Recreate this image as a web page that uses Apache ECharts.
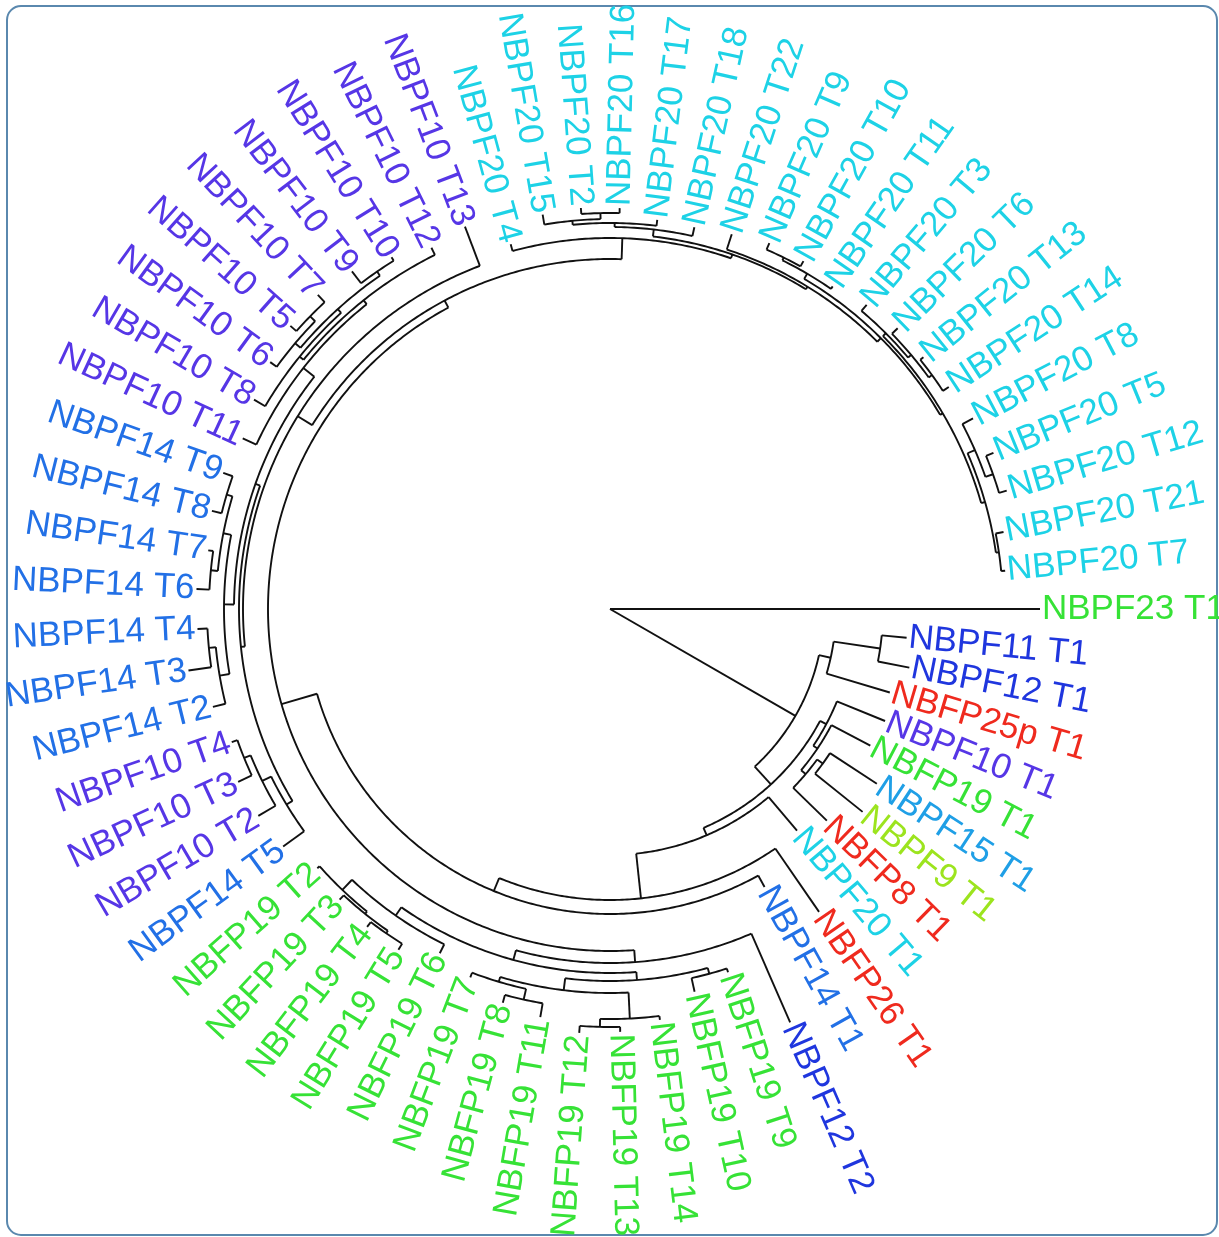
<!DOCTYPE html>
<html>
<head>
<meta charset="utf-8">
<script src="https://cdn.jsdelivr.net/npm/echarts@6/dist/echarts.min.js"></script>
<style>
  html, body { margin: 0; padding: 0; background: #ffffff; }
  #chart { width: 1219px; height: 1237px; }
</style>
</head>
<body>
<div id="chart"></div>
<script>
// Tips of the tree, in drawing order (counter-clockwise is decreasing index)
const leafNames = [
  'NBPF23 T1', 'NBPF11 T1', 'NBPF12 T1', 'NBFP25p T1', 'NBPF10 T1', 'NBFP19 T1',
  'NBPF15 T1', 'NBPF9 T1', 'NBFP8 T1', 'NBPF20 T1', 'NBFP26 T1', 'NBPF14 T1',
  'NBPF12 T2', 'NBFP19 T9', 'NBFP19 T10', 'NBFP19 T14', 'NBFP19 T13', 'NBFP19 T12',
  'NBFP19 T11', 'NBFP19 T8', 'NBFP19 T7', 'NBFP19 T6', 'NBFP19 T5', 'NBFP19 T4',
  'NBFP19 T3', 'NBFP19 T2', 'NBPF14 T5', 'NBPF10 T2', 'NBPF10 T3', 'NBPF10 T4',
  'NBPF14 T2', 'NBPF14 T3', 'NBPF14 T4', 'NBPF14 T6', 'NBPF14 T7', 'NBPF14 T8',
  'NBPF14 T9', 'NBPF10 T11', 'NBPF10 T8', 'NBPF10 T6', 'NBPF10 T5', 'NBPF10 T7',
  'NBPF10 T9', 'NBPF10 T10', 'NBPF10 T12', 'NBPF10 T13', 'NBPF20 T4', 'NBPF20 T15',
  'NBPF20 T2', 'NBPF20 T16', 'NBPF20 T17', 'NBPF20 T18', 'NBPF20 T22', 'NBPF20 T9',
  'NBPF20 T10', 'NBPF20 T11', 'NBPF20 T3', 'NBPF20 T6', 'NBPF20 T13', 'NBPF20 T14',
  'NBPF20 T8', 'NBPF20 T5', 'NBPF20 T12', 'NBPF20 T21', 'NBPF20 T7'
];

// Distance of each tip from the root
const leafDepth = [
  430, 298, 305, 292, 297, 294,
  319, 324, 303, 290, 368, 318,
  451, 382, 392, 414, 423, 425,
  414, 408, 394, 384, 401, 400,
  397, 391, 404, 408, 410, 401,
  409, 426, 413, 414, 406, 410,
  410, 405, 413, 420, 427, 429,
  425, 414, 403, 409, 378, 400,
  402, 401, 392, 391, 394, 399,
  398, 392, 398, 402, 402, 405,
  410, 414, 414, 401, 397
];

// Internal nodes: [child, child, depth]; a child is a tip name or the index of an earlier node
const merges = [
  ['NBPF11 T1', 'NBPF12 T1', 273],   // 0
  [0, 'NBFP25p T1', 226],            // 1
  ['NBPF15 T1', 'NBPF9 T1', 263],    // 2
  [2, 'NBFP8 T1', 256],              // 3
  ['NBFP19 T1', 3, 250],             // 4
  ['NBPF10 T1', 4, 245],             // 5
  ['NBFP19 T4', 'NBFP19 T5', 394],   // 6
  ['NBFP19 T3', 6, 391],             // 7
  ['NBFP19 T2', 7, 388],             // 8
  [8, 'NBFP19 T6', 374],             // 9
  ['NBFP19 T8', 'NBFP19 T11', 400],  // 10
  ['NBFP19 T7', 10, 389],            // 11
  ['NBFP19 T12', 'NBFP19 T13', 418], // 12
  [12, 'NBFP19 T14', 410],           // 13
  [11, 13, 384],                     // 14
  ['NBFP19 T10', 'NBFP19 T9', 378],  // 15
  [14, 15, 372],                     // 16
  [9, 16, 364],                      // 17
  [17, 'NBPF12 T2', 354],            // 18
  ['NBPF10 T4', 'NBPF10 T3', 395],   // 19
  [19, 'NBPF10 T2', 388],            // 20
  [20, 'NBPF14 T5', 378],            // 21
  ['NBPF14 T9', 'NBPF14 T8', 400],   // 22
  ['NBPF14 T7', 'NBPF14 T6', 401],   // 23
  [22, 23, 394],                     // 24
  ['NBPF14 T4', 'NBPF14 T3', 403],   // 25
  [25, 'NBPF14 T2', 396],            // 26
  [24, 26, 386],                     // 27
  ['NBPF10 T5', 'NBPF10 T7', 419],   // 28
  ['NBPF10 T6', 28, 412],            // 29
  ['NBPF10 T9', 'NBPF10 T10', 410],  // 30
  [29, 30, 405],                     // 31
  ['NBPF10 T8', 31, 400],            // 32
  [32, 'NBPF10 T12', 395],           // 33
  ['NBPF10 T11', 33, 390],           // 34
  [27, 34, 376],                     // 35
  [21, 35, 371],                     // 36
  [36, 'NBPF10 T13', 367],           // 37
  ['NBPF20 T2', 'NBPF20 T16', 396],  // 38
  ['NBPF20 T15', 38, 390],           // 39
  [39, 'NBPF20 T17', 386],           // 40
  [40, 'NBPF20 T18', 382],           // 41
  ['NBPF20 T9', 'NBPF20 T10', 392],  // 42
  [42, 'NBPF20 T11', 389],           // 43
  ['NBPF20 T13', 'NBPF20 T14', 398], // 44
  ['NBPF20 T6', 44, 394],            // 45
  ['NBPF20 T3', 45, 390],            // 46
  ['NBPF20 T5', 'NBPF20 T12', 406],  // 47
  ['NBPF20 T8', 47, 398],            // 48
  ['NBPF20 T21', 'NBPF20 T7', 393],  // 49
  [48, 49, 390],                     // 50
  [46, 50, 386],                     // 51
  [43, 51, 383],                     // 52
  ['NBPF20 T22', 52, 378],           // 53
  [41, 53, 375],                     // 54
  ['NBPF20 T4', 54, 371],            // 55
  [37, 55, 350],                     // 56
  [56, 18, 342],                     // 57
  ['NBPF14 T1', 57, 305],            // 58
  ['NBFP26 T1', 58, 291],            // 59
  ['NBPF20 T1', 59, 246],            // 60
  [5, 60, 238],                      // 61
  [1, 61, 214],                      // 62
  ['NBPF23 T1', 62, 0]               // 63 (root)
];

// Label colour for each gene family
const familyColor = {
  'NBPF23': '#36e236', 'NBFP19': '#36e236', 'NBPF9': '#9ce41e',
  'NBPF11': '#1f36de', 'NBPF12': '#1f36de', 'NBPF10': '#5636e6',
  'NBPF14': '#2270e6', 'NBPF15': '#1f9fe6', 'NBPF20': '#1dd2e6',
  'NBFP25p': '#ef2a1e', 'NBFP8': '#ef2a1e', 'NBFP26': '#ef2a1e'
};

const LINE_COLOR = '#111111';
const LINE_WIDTH = 1.9;
const LABEL_FONT = '35px "Liberation Sans", Arial, sans-serif';
const LABEL_GAP = 2;

// Lay the tips out evenly around the circle
const step = 360 / leafNames.length;
const leafAngle = leafNames.map((_, i) => 360 - i * step);
const nodeAngle = [];
const nodeDepth = [];
function childInfo(c) {
  if (typeof c === 'string') {
    const i = leafNames.indexOf(c);
    return { angle: leafAngle[i], depth: leafDepth[i] };
  }
  return { angle: nodeAngle[c], depth: nodeDepth[c] };
}
const arcData = [];   // [depth, angleFrom, angleTo]
const stemData = [];  // [depthFrom, depthTo, angle]
merges.forEach(([a, b, d], k) => {
  const A = childInfo(a), B = childInfo(b);
  nodeAngle[k] = (A.angle + B.angle) / 2;
  nodeDepth[k] = d;
  if (d > 0) arcData.push([d, A.angle, B.angle]);
  stemData.push([d, A.depth, A.angle], [d, B.depth, B.angle]);
});
const labelData = leafNames.map((_, i) => [leafDepth[i] + LABEL_GAP, leafAngle[i], i]);

const chart = echarts.init(document.getElementById('chart'), null, { renderer: 'canvas' });
chart.setOption({
  animation: false,
  backgroundColor: '#ffffff',
  graphic: [{
    type: 'rect',
    shape: { x: 7, y: 6, width: 1210, height: 1229, r: 14 },
    style: { fill: 'none', stroke: '#5a88ae', lineWidth: 2 },
    silent: true
  }],
  polar: { center: [610, 609], radius: 430 },
  angleAxis: { type: 'value', min: 0, max: 360, startAngle: 0, clockwise: false, show: false },
  radiusAxis: { type: 'value', min: 0, max: 430, show: false },
  series: [
    {
      type: 'custom',
      coordinateSystem: 'polar',
      clip: false,
      silent: true,
      data: arcData,
      renderItem(params, api) {
        const r = api.value(0), a0 = api.value(1), a1 = api.value(2);
        const n = Math.max(2, Math.ceil(Math.abs(a1 - a0) * 2) + 1);
        const pts = [];
        for (let j = 0; j < n; j++) {
          pts.push(api.coord([r, a0 + (a1 - a0) * j / (n - 1)]));
        }
        return { type: 'polyline', shape: { points: pts },
                 style: { stroke: LINE_COLOR, lineWidth: LINE_WIDTH, fill: null, lineJoin: 'miter' } };
      }
    },
    {
      type: 'custom',
      coordinateSystem: 'polar',
      clip: false,
      silent: true,
      data: stemData,
      renderItem(params, api) {
        const p0 = api.coord([api.value(0), api.value(2)]);
        const p1 = api.coord([api.value(1), api.value(2)]);
        return { type: 'line', shape: { x1: p0[0], y1: p0[1], x2: p1[0], y2: p1[1] },
                 style: { stroke: LINE_COLOR, lineWidth: LINE_WIDTH } };
      }
    },
    {
      type: 'custom',
      coordinateSystem: 'polar',
      clip: false,
      silent: true,
      data: labelData,
      renderItem(params, api) {
        const i = api.value(2);
        const ang = leafAngle[i];
        const p = api.coord([api.value(0), ang]);
        const rightSide = Math.cos(ang * Math.PI / 180) > 0;
        const rot = (rightSide ? ang : ang - 180) * Math.PI / 180;
        const name = leafNames[i];
        return {
          type: 'text', x: p[0], y: p[1], rotation: rot,
          style: {
            text: name,
            fill: familyColor[name.split(' ')[0]],
            font: LABEL_FONT,
            align: rightSide ? 'left' : 'right',
            verticalAlign: 'middle'
          }
        };
      }
    }
  ]
});
</script>
</body>
</html>
